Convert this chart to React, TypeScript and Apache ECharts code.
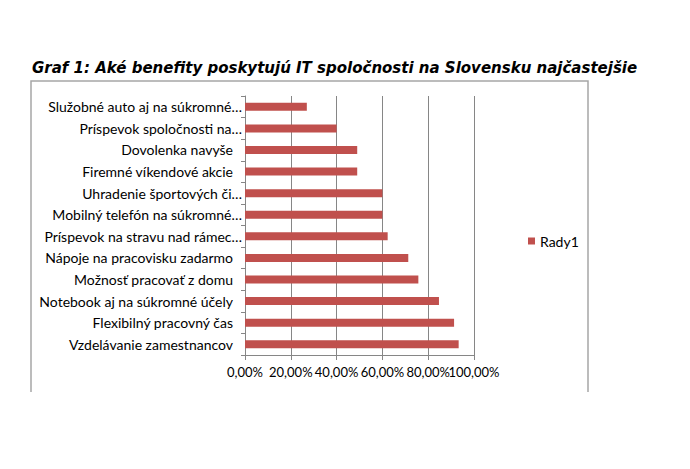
import React, { useEffect, useRef } from "react";
import * as echarts from "echarts";

const categories = [
  "Služobné auto aj na súkromné…",
  "Príspevok spoločnosti na…",
  "Dovolenka navyše",
  "Firemné víkendové akcie",
  "Uhradenie športových či…",
  "Mobilný telefón na súkromné…",
  "Príspevok na stravu nad rámec…",
  "Nápoje na pracovisku zadarmo",
  "Možnosť pracovať z domu",
  "Notebook aj na súkromné účely",
  "Flexibilný pracovný čas",
  "Vzdelávanie zamestnancov",
];
const values = [0.27, 0.4, 0.49, 0.49, 0.6, 0.6, 0.623, 0.713, 0.757, 0.847, 0.913, 0.933];
const seriesName = "Rady1";
const titleText = "Graf 1: Aké benefity poskytujú IT spoločnosti na Slovensku najčastejšie";

const LABEL_FONT = "Lato";

const fmtPct = (v: number) => (v * 100).toFixed(2).replace(".", ",") + "%";
const isEvenStep = (v: number) => Math.round(v * 5) % 2 === 0;

export default function App() {
  const ref = useRef<HTMLDivElement>(null);
  useEffect(() => {
    if (!ref.current) return;
    const chart = echarts.init(ref.current, null, { renderer: "svg" });
    const labelBase = {
      margin: 10,
      showMaxLabel: true,
      showMinLabel: true,
      hideOverlap: false,
      fontFamily: LABEL_FONT,
      fontSize: 13,
      color: "#000",
    };
    chart.setOption({
      animation: false,
      backgroundColor: "#ffffff",
      title: {
        text: titleText,
        left: 32,
        top: 60,
        padding: 0,
        textStyle: {
          fontFamily: "DejaVu Sans",
          fontStyle: "italic",
          fontWeight: "bold",
          fontSize: 15,
          color: "#000000",
        },
      },
      graphic: [
        {
          type: "polyline",
          shape: { points: [[31, 392], [31, 81], [588, 81], [588, 392]] },
          style: { stroke: "#a6a6a6", lineWidth: 1.5, fill: "none" },
          silent: true,
        },
      ],
      legend: {
        show: true,
        left: 523,
        top: 229,
        orient: "vertical",
        itemWidth: 7,
        itemHeight: 7,
        itemGap: 4,
        icon: "rect",
        textStyle: { fontFamily: LABEL_FONT, fontSize: 14, color: "#000" },
        data: [seriesName],
      },
      grid: { left: 245, right: 216, top: 96, bottom: 114, containLabel: false },
      xAxis: [
        {
          type: "value",
          min: 0,
          max: 1,
          interval: 0.2,
          axisLine: { show: true, lineStyle: { color: "#868686", width: 1 } },
          axisTick: { show: true, length: 5, lineStyle: { color: "#868686" } },
          splitLine: { show: true, lineStyle: { color: "#868686", width: 1 } },
          axisLabel: { ...labelBase, formatter: (v: number) => (isEvenStep(v) ? fmtPct(v) : "") },
        },
        {
          type: "value",
          position: "bottom",
          min: 0,
          max: 1,
          interval: 0.2,
          axisLine: { show: false },
          axisTick: { show: false },
          splitLine: { show: false },
          axisLabel: { ...labelBase, formatter: (v: number) => (isEvenStep(v) ? "" : fmtPct(v)) },
        },
      ],
      yAxis: {
        type: "category",
        inverse: true,
        data: categories,
        axisLine: { show: true, lineStyle: { color: "#868686", width: 1 } },
        axisTick: { show: true, length: 4, lineStyle: { color: "#868686" } },
        splitLine: { show: false },
        axisLabel: {
          margin: 3,
          interval: 0,
          fontFamily: LABEL_FONT,
          fontSize: 14,
          color: "#000",
          formatter: (v: string) => (v.endsWith("…") ? v : `{p|${v}}`),
          rich: {
            p: { fontFamily: LABEL_FONT, fontSize: 14, color: "#000", padding: [0, 9, 0, 0] },
          },
        },
      },
      series: [
        {
          name: seriesName,
          type: "bar",
          xAxisIndex: 0,
          data: values,
          barWidth: 8,
          itemStyle: { color: "#c0504d" },
        },
      ],
    });
    return () => chart.dispose();
  }, []);
  return <div ref={ref} style={{ width: 690, height: 469, position: "absolute", left: 0, top: 0 }} />;
}
